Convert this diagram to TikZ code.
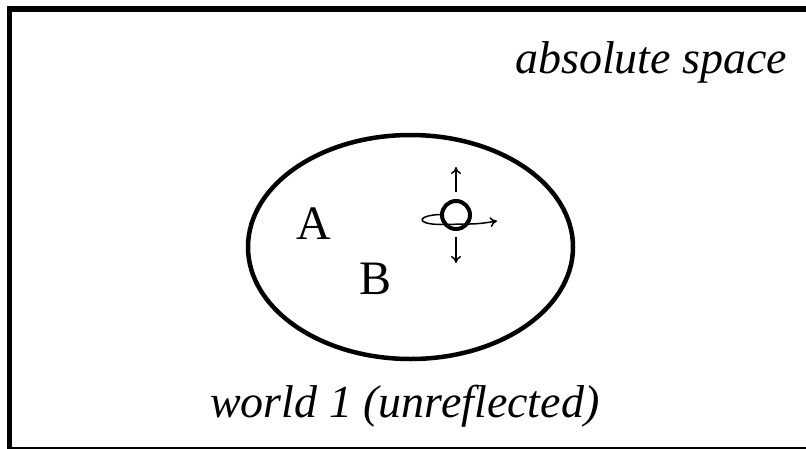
\documentclass[tikz,border=0pt]{standalone}
\usepackage{fontspec}
\setmainfont{Liberation Serif}
\usetikzlibrary{arrows.meta}
\begin{document}
\begin{tikzpicture}[x=1pt,y=-1pt,
  frame/.style={line width=5.5pt},
  world/.style={line width=4.5pt},
  lbl/.style={inner sep=0pt,font=\fontsize{46}{50}\selectfont\itshape},
  pt/.style={inner sep=0pt,anchor=base,font=\fontsize{48}{52}\selectfont},
  motion/.style={line width=1.5pt,-{To[length=7pt,width=10pt]}},
  bodyring/.style={line width=4pt}]
\useasboundingbox (0,0) rectangle (806,448);
\clip (0,0) rectangle (806,448);
\draw[frame] (9.5,9) rectangle (812,449.8);
\draw[world] (410.5,247) ellipse [x radius=162.5, y radius=112];
\node[lbl,anchor=base west] (abs) at (515,73) {absolute space};
\node[lbl,anchor=base west] (w1) at (210,417) {world 1 (unreflected)};
\node[pt] (A) at (314,239) {A};
\node[pt] (B) at (376,294) {B};
\coordinate (O) at (456,215);
\draw[bodyring] (O) circle [radius=14];
\coordinate (upS) at (456,192);
\coordinate (upE) at (456,167);
\coordinate (dnS) at (456,237);
\coordinate (dnE) at (456,263);
\draw[motion] (upS) -- (upE);
\draw[motion] (dnS) -- (dnE);
\coordinate (rotS) at (441,214.5);
\coordinate (rotE) at (497,221);
\draw[motion] (rotS) .. controls (418,215) and (414,224) .. (440,224.5)
  -- (470,224) .. controls (480,223.8) and (488,222.5) .. (rotE);
\end{tikzpicture}
\end{document}
